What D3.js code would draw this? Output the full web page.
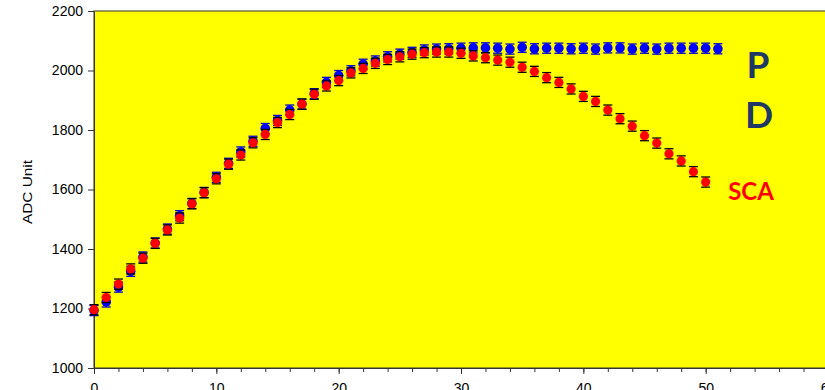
<!DOCTYPE html>
<html>
<head>
  <meta charset="UTF-8">
  <title>ADC Unit - PD / SCA</title>
  <style>
    body { margin: 0; background: #fff; }
    svg { display: block; }
    .axis text { font-family: "Liberation Sans", Arial, sans-serif; font-size: 14px; fill: #000; }
    .axis line, .axis path { stroke: #333; }
  </style>
</head>
<body>
  <svg width="825" height="390"></svg>

  <script src="https://cdn.jsdelivr.net/npm/d3@7"></script>
  <script>
    // values
    const pdValues = [1193, 1222, 1272, 1325, 1373, 1420, 1467, 1512, 1553, 1590,
      1641, 1688, 1726, 1762, 1805, 1832, 1867, 1887, 1922, 1960,
      1983, 1999, 2021, 2032, 2046, 2055, 2061, 2069, 2072, 2073,
      2075, 2076, 2076, 2075, 2072, 2078, 2073, 2075, 2075, 2073,
      2075, 2072, 2076, 2076, 2072, 2075, 2072, 2075, 2075, 2075,
      2075, 2073];
    const scaValues = [1196, 1237, 1282, 1333, 1369, 1419, 1464, 1504, 1552, 1589,
      1636, 1685, 1716, 1757, 1785, 1825, 1852, 1887, 1920, 1948,
      1966, 1992, 2007, 2024, 2037, 2046, 2055, 2060, 2062, 2062,
      2058, 2049, 2043, 2035, 2028, 2011, 1997, 1976, 1960, 1938,
      1913, 1896, 1867, 1838, 1813, 1781, 1756, 1720, 1696, 1660,
      1625];
    const errorBar = 17;
    const yTicks = [1000, 1200, 1400, 1600, 1800, 2000, 2200];
    const xTicks = [0, 10, 20, 30, 40, 50, 60];
    const xMinorTicks = d3.range(0, 61, 2);

    const plotLeft = 94, plotRight = 828, plotTop = 11, plotBottom = 368;

    const svg = d3.select('svg');

    const x = d3.scaleLinear().domain([0, 60]).range([plotLeft, plotRight]);
    const y = d3.scaleLinear().domain([1000, 2200]).range([plotBottom, plotTop]);

    // plot area
    svg.append('rect')
      .attr('x', plotLeft)
      .attr('y', plotTop)
      .attr('width', plotRight - plotLeft)
      .attr('height', plotBottom - plotTop)
      .attr('fill', '#ffff00')
      .attr('stroke', '#555533')
      .attr('stroke-width', 1.2);

    // y axis
    svg.append('g')
      .attr('class', 'axis')
      .attr('transform', `translate(${plotLeft}, 0)`)
      .call(d3.axisLeft(y).tickValues(yTicks).tickFormat(d3.format('d'))
        .tickSize(6).tickPadding(5).tickSizeOuter(0));

    // x axis, minor then major ticks
    svg.append('g')
      .attr('class', 'axis')
      .attr('transform', `translate(0, ${plotBottom})`)
      .call(d3.axisBottom(x).tickValues(xMinorTicks).tickSize(4).tickFormat('').tickSizeOuter(0));
    svg.append('g')
      .attr('class', 'axis')
      .attr('transform', `translate(0, ${plotBottom})`)
      .call(d3.axisBottom(x).tickValues(xTicks).tickFormat(d3.format('d'))
        .tickSize(6).tickPadding(9).tickSizeOuter(0));

    // y axis title
    svg.append('text')
      .attr('transform', 'translate(32, 192) rotate(-90)')
      .attr('text-anchor', 'middle')
      .attr('font-family', '"Liberation Sans", Arial, sans-serif')
      .attr('font-size', '13px')
      .attr('textLength', 64)
      .attr('lengthAdjust', 'spacingAndGlyphs')
      .text('ADC Unit');

    function drawSeries(values, color, barColor, r) {
      const data = values.map((v, i) => ({ i: i, v: v }));
      const g = svg.append('g');
      const bars = g.selectAll('g.bar')
        .data(data)
        .enter()
        .append('g')
        .attr('stroke', barColor)
        .attr('stroke-width', 1.3);
      bars.append('line')
        .attr('x1', d => x(d.i)).attr('x2', d => x(d.i))
        .attr('y1', d => y(d.v - errorBar)).attr('y2', d => y(d.v + errorBar));
      bars.append('line')
        .attr('x1', d => x(d.i) - 4.5).attr('x2', d => x(d.i) + 4.5)
        .attr('y1', d => y(d.v + errorBar)).attr('y2', d => y(d.v + errorBar));
      bars.append('line')
        .attr('x1', d => x(d.i) - 4.5).attr('x2', d => x(d.i) + 4.5)
        .attr('y1', d => y(d.v - errorBar)).attr('y2', d => y(d.v - errorBar));
      g.selectAll('circle')
        .data(data)
        .enter()
        .append('circle')
        .attr('cx', d => x(d.i))
        .attr('cy', d => y(d.v))
        .attr('r', r)
        .attr('fill', color);
    }

    drawSeries(pdValues, '#0000ff', '#0000cc', 4.8);
    drawSeries(scaValues, '#ff0000', '#000000', 4.6);

    // labels
    svg.append('text')
      .attr('x', 758).attr('y', 78)
      .attr('text-anchor', 'middle')
      .attr('font-family', 'Lato, "Open Sans", sans-serif')
      .attr('font-weight', 'bold')
      .attr('font-size', '37px')
      .attr('fill', '#1f3864')
      .text('P');
    svg.append('text')
      .attr('x', 759).attr('y', 128)
      .attr('text-anchor', 'middle')
      .attr('font-family', 'Lato, "Open Sans", sans-serif')
      .attr('font-weight', 'bold')
      .attr('font-size', '37px')
      .attr('fill', '#1f3864')
      .text('D');
    svg.append('text')
      .attr('x', 751).attr('y', 200)
      .attr('text-anchor', 'middle')
      .attr('font-family', 'Lato, "Open Sans", sans-serif')
      .attr('font-weight', 'bold')
      .attr('font-size', '24px')
      .attr('fill', '#ff0000')
      .text('SCA');
  </script>
</body>
</html>
